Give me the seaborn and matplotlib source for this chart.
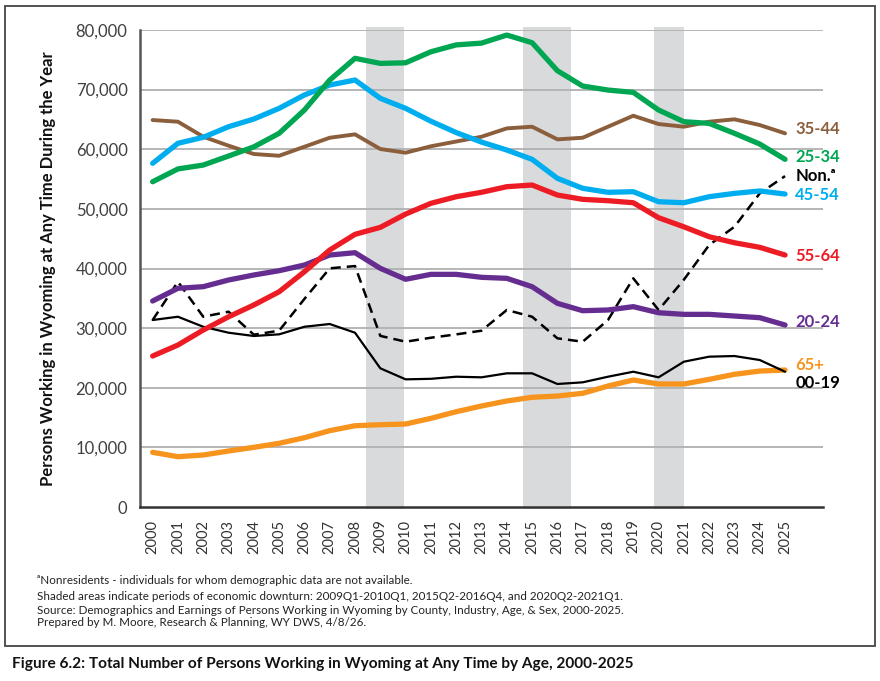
import matplotlib
matplotlib.use("Agg")
import matplotlib.pyplot as plt
import matplotlib.patches as mpatches
from matplotlib.ticker import FixedLocator, FuncFormatter
import seaborn as sns
import pandas as pd
import numpy as np

years = list(range(2000, 2026))
age_25_34 = [54550, 56700, 57350, 58860, 60400, 62670, 66580, 71600, 75250, 74400, 74500, 76350,
             77500, 77800, 79150, 77870, 73170, 70600, 69930, 69540, 66580, 64620, 64340, 62670, 60870, 58310]
age_45_54 = [57640, 61000, 62000, 63780, 65070, 66860, 69100, 70770, 71610, 68540, 66860, 64700,
             62800, 61200, 59870, 58310, 55120, 53450, 52780, 52880, 51200, 51030, 52040, 52600, 53000, 52490]
age_35_44 = [64900, 64620, 62100, 60600, 59200, 58910, 60420, 61930, 62500, 60040, 59420, 60500,
             61300, 62100, 63500, 63780, 61660, 61930, 63780, 65620, 64230, 63780, 64620, 65020, 64060, 62670]
age_55_64 = [25320, 27170, 29680, 31900, 33880, 36100, 39460, 43100, 45730, 46900, 49130, 50930,
             52040, 52780, 53720, 54000, 52320, 51600, 51370, 51030, 48520, 46990, 45330, 44320, 43550, 42260]
age_20_24 = [34550, 36680, 36950, 38070, 38910, 39630, 40580, 42260, 42650, 40030, 38190, 39020,
             39020, 38520, 38350, 36950, 34160, 32920, 33040, 33600, 32580, 32310, 32310, 32030, 31750, 30520]
nonres = [31360, 37780, 31910, 32750, 28900, 29570, 34900, 40030, 40410, 28700, 27720, 28390,
          28950, 29570, 33040, 31910, 28290, 27720, 31360, 38350, 33040, 38120, 43940, 47000, 52600, 55500]
age_00_19 = [31360, 31910, 30230, 29230, 28680, 28960, 30230, 30690, 29230, 23260, 21410, 21500,
             21850, 21750, 22420, 22420, 20630, 20910, 21850, 22690, 21750, 24370, 25210, 25320, 24650, 22690]
age_65 = [9170, 8440, 8720, 9390, 10010, 10680, 11620, 12800, 13630, 13800, 13920, 14870,
          15980, 16940, 17780, 18400, 18610, 19070, 20290, 21300, 20630, 20630, 21410, 22250, 22800, 22970]

series_names = ["35-44", "25-34", "Non.", "45-54", "55-64", "20-24", "65+", "00-19"]
downturns = [(8.45, 9.92), (14.65, 16.52), (19.83, 20.99)]
yticks = [0, 10000, 20000, 30000, 40000, 50000, 60000, 70000, 80000]

sns.set_theme(style="white")
plt.rcParams['font.family'] = ['Lato', 'DejaVu Sans']

idx = np.arange(len(years))
df = pd.DataFrame({"i": idx, "25-34": age_25_34, "45-54": age_45_54, "35-44": age_35_44,
                   "55-64": age_55_64, "20-24": age_20_24, "Non.": nonres,
                   "00-19": age_00_19, "65+": age_65})

fig = plt.figure(figsize=(8.8, 6.81), dpi=100)
ax = fig.add_axes([140/880, 1-507/681, (823-140)/880, (507-30)/681])

for a, b in downturns:
    ax.axvspan(a, b, ymin=-0.005, ymax=1.006, color="#d9dadc", lw=0, zorder=0, clip_on=False)

for v in yticks[1:]:
    ax.axhline(v, color="#b0b0b0", lw=1.3, zorder=1)

styles = {
    "65+": dict(color="#f7941d", lw=3.8),
    "00-19": dict(color="#000000", lw=1.6),
    "Non.": dict(color="#000000", lw=1.8, dashes=(4, 2.4)),
    "20-24": dict(color="#662d91", lw=3.8),
    "55-64": dict(color="#ed1c24", lw=3.8),
    "35-44": dict(color="#8b5e3c", lw=2.8),
    "45-54": dict(color="#00aeef", lw=3.8),
    "25-34": dict(color="#00a651", lw=3.8),
}
for name in ["65+", "00-19", "Non.", "20-24", "55-64", "35-44", "45-54", "25-34"]:
    st = styles[name]
    kw = dict(color=st["color"], linewidth=st["lw"], zorder=3)
    sns.lineplot(data=df, x="i", y=name, ax=ax, **kw)
    if "dashes" in st:
        ax.lines[-1].set_dashes(st["dashes"])

label_pos = {"35-44": 129, "25-34": 157, "Non.": 176, "45-54": 195, "55-64": 256,
             "20-24": 322, "65+": 365, "00-19": 383}
label_text = {"Non.": "Non.ᵃ"}
for name in series_names:
    ypix = label_pos[name]
    yval = (507 - ypix) / 477 * 80000
    ax.text(25.4, yval, label_text.get(name, name), color=styles[name]["color"],
            fontsize=12, fontweight="bold", va="center", ha="left", clip_on=False)

ax.set_xlim(-0.5, 26.5)
ax.set_ylim(0, 80000)
ax.set_xticks(idx)
ax.set_xticklabels([str(y) for y in years], rotation=90, fontsize=10.5, color="#333333")
ax.xaxis.set_minor_locator(FixedLocator(np.arange(-0.5, 27, 1)))
ax.tick_params(axis="x", which="major", length=0, pad=9)
ax.tick_params(axis="x", which="minor", length=7, width=1.4, direction="in", color="#333333")
ax.set_yticks(yticks)
ax.yaxis.set_major_formatter(FuncFormatter(lambda v, p: f"{int(v):,}"))
ax.tick_params(axis="y", length=0, pad=9, labelsize=12, labelcolor="#404040")
ax.set_xlabel("")
ax.set_ylabel("Persons Working in Wyoming at Any Time During the Year", fontsize=12,
              fontweight="bold", color="#111111", labelpad=14)
for s in ["top", "right"]:
    ax.spines[s].set_visible(False)
ax.spines["left"].set_color("#555555")
ax.spines["left"].set_linewidth(1.8)
ax.spines["bottom"].set_color("#333333")
ax.spines["bottom"].set_linewidth(1.8)

frame = mpatches.Rectangle((5/880, 1-646/681), 870/880, 640/681, transform=fig.transFigure,
                           fill=False, edgecolor="#444444", lw=1.3)
fig.patches.append(frame)

notes = ["ᵃNonresidents - individuals for whom demographic data are not available.",
         "Shaded areas indicate periods of economic downturn: 2009Q1-2010Q1, 2015Q2-2016Q4, and 2020Q2-2021Q1.",
         "Source: Demographics and Earnings of Persons Working in Wyoming by County, Industry, Age, & Sex, 2000-2025.",
         "Prepared by M. Moore, Research & Planning, WY DWS, 4/8/26."]
for k, t in enumerate(notes):
    fig.text(37/880, 1-[581, 596, 610, 623][k]/681, t, fontsize=8.4, color="#222222", va="center")

fig.text(12/880, 1-664/681,
         "Figure 6.2: Total Number of Persons Working in Wyoming at Any Time by Age, 2000-2025",
         fontsize=11.1, fontweight="bold", color="#111111", va="center")

fig.savefig("out.png", dpi=100)
